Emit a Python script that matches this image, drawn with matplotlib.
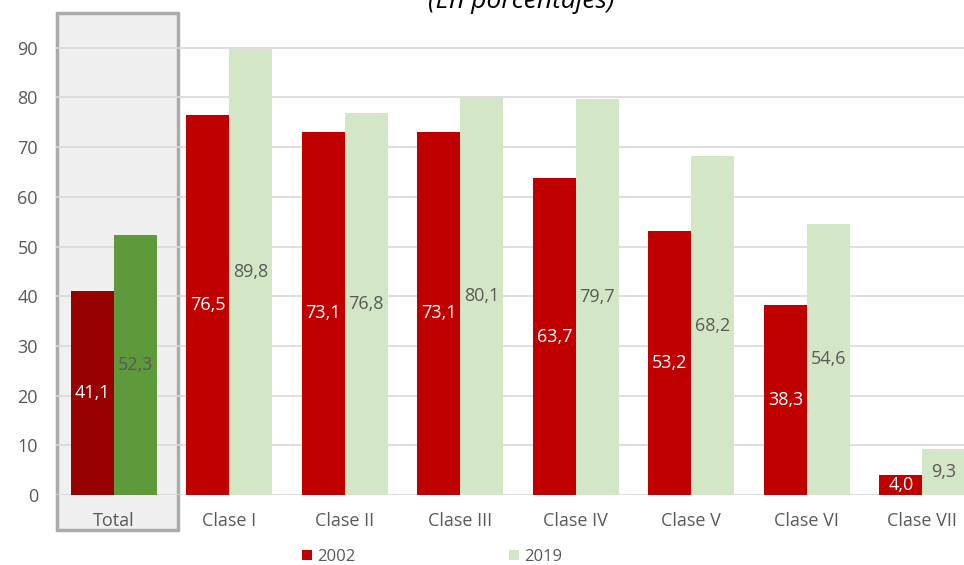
import matplotlib
matplotlib.use("Agg")
import matplotlib.pyplot as plt
from matplotlib.patches import Rectangle
import numpy as np

categories = ["Total", "Clase I", "Clase II", "Clase III", "Clase IV",
              "Clase V", "Clase VI", "Clase VII"]
values_2002 = [41.1, 76.5, 73.1, 73.1, 63.7, 53.2, 38.3, 4.0]
values_2019 = [52.3, 89.8, 76.8, 80.1, 79.7, 68.2, 54.6, 9.3]
series_labels = ["2002", "2019"]

red = "#C00000"
red_dark = "#960000"
green = "#D3E6C6"
green_dark = "#5E9A3C"
text_gray = "#595959"

plt.rcParams['font.family'] = ['Open Sans', 'DejaVu Sans']

W, H = 964, 565
fig = plt.figure(figsize=(W / 100, H / 100), dpi=100)

# axes placed in pixel terms: x 56..964, y 12..495
ax = fig.add_axes([56 / W, (H - 495) / H, (964 - 56) / W, (495 - 12) / H])
ax.set_xlim(-0.5, 7.36)
ax.set_ylim(0, 97.2)

x = np.arange(len(categories))
bw = 0.372
c2002 = [red_dark] + [red] * (len(categories) - 1)
c2019 = [green_dark] + [green] * (len(categories) - 1)
b1 = ax.bar(x - bw / 2, values_2002, bw, color=c2002, zorder=3, label=series_labels[0])
b2 = ax.bar(x + bw / 2, values_2019, bw, color=c2019, zorder=3, label=series_labels[1])

for xi, v in zip(x, values_2002):
    ax.text(xi - bw / 2, v / 2, f"{v:.1f}".replace(".", ","), ha='center', va='center',
            color='white', fontsize=13, zorder=4)
for xi, v in zip(x, values_2019):
    ax.text(xi + bw / 2, v / 2, f"{v:.1f}".replace(".", ","), ha='center', va='center',
            color=text_gray, fontsize=13, zorder=4)

# highlight box around Total
ax.add_patch(Rectangle((-0.49, -7.0), 1.05, 104.0, facecolor="#F0F0F0",
                       edgecolor="#ABABAB", linewidth=2.5, clip_on=False, zorder=0))

ax.set_yticks(range(0, 91, 10))
ax.yaxis.grid(True, color="#D9D9D9", linewidth=1.2, zorder=1)
ax.set_axisbelow(False)
for gl in ax.get_ygridlines():
    gl.set_zorder(1)
ax.set_xticks(x)
ax.set_xticklabels(categories)
ax.tick_params(axis='both', length=0, labelsize=13, colors=text_gray)
ax.tick_params(axis='x', pad=12)
ax.tick_params(axis='y', pad=13)
for s in ax.spines.values():
    s.set_visible(False)
ax.patch.set_visible(False)

fig.text(521 / W, 1 - 1 / H, "(En porcentajes)", ha='center', va='center',
         fontsize=19, style='italic', color='black',
         family=['Liberation Sans Narrow', 'Open Sans', 'DejaVu Sans'])

fig.legend(handles=[b1[1], b2[1]], labels=series_labels, loc='center',
           bbox_to_anchor=(432 / W, 1 - 557 / H), ncol=2, frameon=False,
           fontsize=12, labelcolor=text_gray, handlelength=0.6, handleheight=0.6,
           handletextpad=0.3, columnspacing=9.2)

fig.savefig("out.png", dpi=100)
